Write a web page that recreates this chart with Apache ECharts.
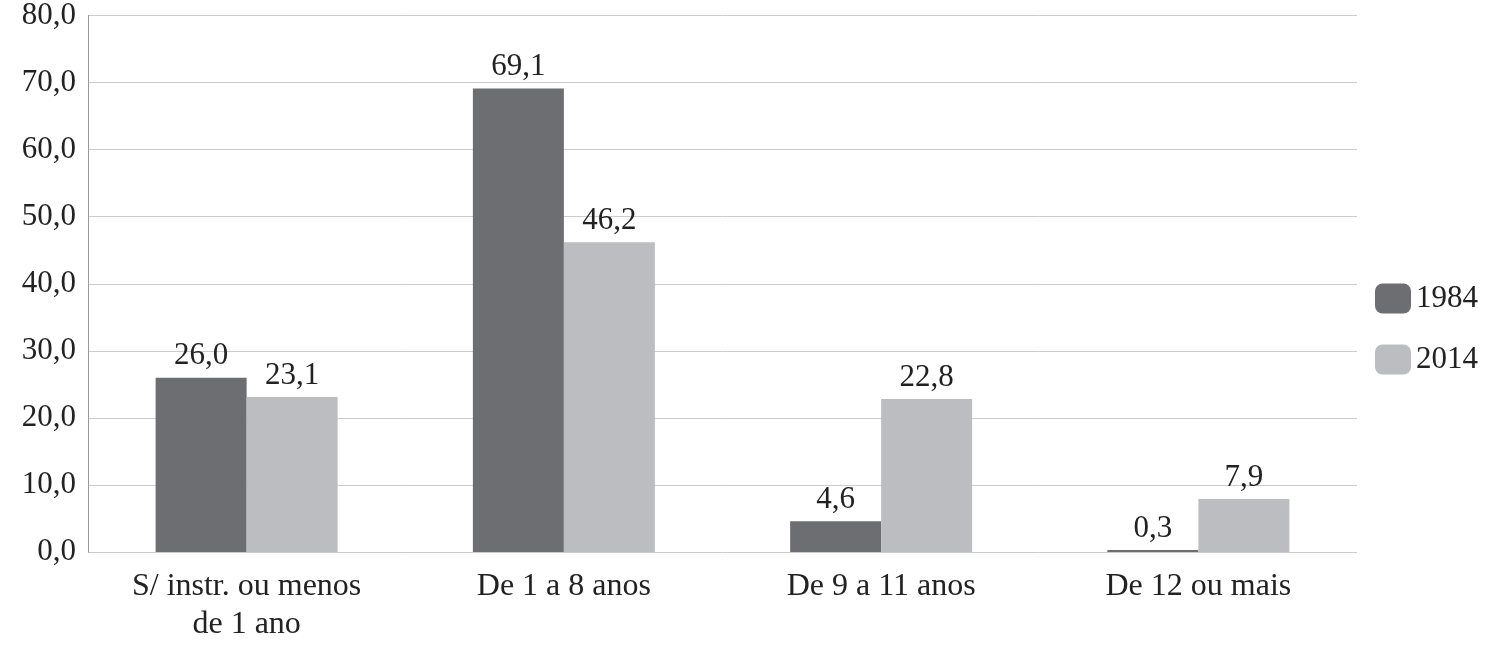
<!DOCTYPE html>
<html>
<head>
<meta charset="utf-8">
<script src="https://cdn.jsdelivr.net/npm/echarts@6/dist/echarts.min.js"></script>
<style>html,body{margin:0;padding:0;background:#fff}#chart{width:1500px;height:657px}</style>
</head>
<body>
<div id="chart"></div>
<script>
var categories = ['S/ instr. ou menos\nde 1 ano', 'De 1 a 8 anos', 'De 9 a 11 anos', 'De 12 ou mais'];
var values1984 = [26.0, 69.1, 4.6, 0.3];
var values2014 = [23.1, 46.2, 22.8, 7.9];
var fontName = 'Liberation Serif';
function fmt(v) { return v.toFixed(1).replace('.', ','); }
var chart = echarts.init(document.getElementById('chart'));
function barSeries(name, data, color) {
    return {
        name: name,
        type: 'bar',
        data: data,
        barWidth: 91,
        barGap: '0%',
        itemStyle: { color: color },
        label: {
            show: true,
            position: 'top',
            distance: 6,
            color: '#222',
            fontFamily: fontName,
            fontSize: 31,
            formatter: function (p) { return fmt(p.value); }
        }
    };
}
chart.setOption({
    animation: false,
    backgroundColor: '#fff',
    grid: { left: 88, right: 143, top: 12, bottom: 105 },
    legend: {
        orient: 'vertical',
        left: 1370,
        top: 278,
        itemWidth: 36,
        itemHeight: 30,
        itemGap: 30,
        textStyle: { fontFamily: fontName, fontSize: 31, color: '#222' },
        data: ['1984', '2014']
    },
    xAxis: {
        type: 'category',
        data: categories,
        axisLine: { show: false },
        axisTick: { show: false },
        axisLabel: { fontFamily: fontName, fontSize: 32, color: '#222', margin: 16, lineHeight: 38 }
    },
    yAxis: {
        type: 'value',
        min: 0,
        max: 80,
        interval: 10,
        axisLine: { show: true, lineStyle: { color: '#999' } },
        axisTick: { show: false },
        splitLine: { lineStyle: { color: '#ccc', width: 1 } },
        axisLabel: {
            fontFamily: fontName, fontSize: 31, color: '#222', margin: 12,
            formatter: function (v) { return fmt(v); }
        }
    },
    series: [
        barSeries('1984', values1984, '#6d6e71'),
        barSeries('2014', values2014, '#bcbdc0')
    ]
});
</script>
</body>
</html>
